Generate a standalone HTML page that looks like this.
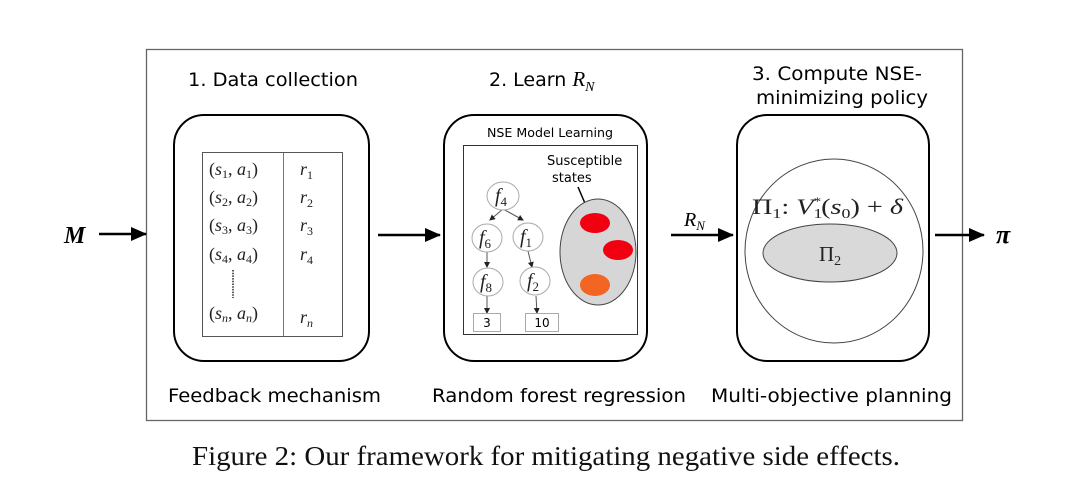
<!DOCTYPE html>
<html><head><meta charset="utf-8"><style>
html,body{margin:0;padding:0;background:#fff;}
svg{display:block;}
.s{font-family:"DejaVu Sans","Liberation Sans",sans-serif;}
.m{font-family:"Liberation Serif",serif;font-style:italic;}
.r{font-family:"Liberation Serif",serif;}
</style></head><body>
<svg width="1080" height="495" viewBox="0 0 1080 495" xmlns="http://www.w3.org/2000/svg">
<defs>
<marker id="as" markerWidth="6" markerHeight="6" refX="5" refY="3" orient="auto" markerUnits="userSpaceOnUse" viewBox="0 0 6 6"><path d="M0,0 L6,3 L0,6 z" fill="#222"/></marker>
<marker id="ab" markerWidth="16" markerHeight="14" refX="15" refY="7" orient="auto" markerUnits="userSpaceOnUse" viewBox="0 0 16 14"><path d="M0,0 L16,7 L0,14 z" fill="#000"/></marker>
</defs>
<rect x="146.5" y="49.5" width="816" height="371" fill="none" stroke="#666" stroke-width="1.3"/>
<text x="188" y="86" class="s" font-size="19" textLength="170" lengthAdjust="spacingAndGlyphs">1. Data collection</text>
<text x="489" y="86" class="s" font-size="19">2. Learn <tspan class="m" font-size="21">R</tspan><tspan class="m" font-size="14" dy="5">N</tspan></text>
<text x="752" y="80" class="s" font-size="19" textLength="170" lengthAdjust="spacingAndGlyphs">3. Compute NSE-</text>
<text x="756" y="104" class="s" font-size="19" textLength="172" lengthAdjust="spacingAndGlyphs">minimizing policy</text>
<!-- box1 -->
<rect x="174" y="115" width="195" height="246" rx="30" fill="none" stroke="#000" stroke-width="2"/>
<rect x="202.5" y="152.5" width="140" height="184" fill="none" stroke="#555" stroke-width="1"/>
<line x1="283.5" y1="153" x2="283.5" y2="336" stroke="#777" stroke-width="1"/>
<g class="r" font-size="18" fill="#222">
<text x="209" y="175">(<tspan class="m">s</tspan><tspan font-size="12" dy="3">1</tspan><tspan dy="-3">, </tspan><tspan class="m">a</tspan><tspan font-size="12" dy="3">1</tspan><tspan dy="-3">)</tspan></text>
<text x="209" y="203">(<tspan class="m">s</tspan><tspan font-size="12" dy="3">2</tspan><tspan dy="-3">, </tspan><tspan class="m">a</tspan><tspan font-size="12" dy="3">2</tspan><tspan dy="-3">)</tspan></text>
<text x="209" y="231">(<tspan class="m">s</tspan><tspan font-size="12" dy="3">3</tspan><tspan dy="-3">, </tspan><tspan class="m">a</tspan><tspan font-size="12" dy="3">3</tspan><tspan dy="-3">)</tspan></text>
<text x="209" y="260">(<tspan class="m">s</tspan><tspan font-size="12" dy="3">4</tspan><tspan dy="-3">, </tspan><tspan class="m">a</tspan><tspan font-size="12" dy="3">4</tspan><tspan dy="-3">)</tspan></text>
<text x="209" y="319">(<tspan class="m">s</tspan><tspan font-size="12" dy="3" class="m">n</tspan><tspan dy="-3">, </tspan><tspan class="m">a</tspan><tspan font-size="12" dy="3" class="m">n</tspan><tspan dy="-3">)</tspan></text>
<text x="300" y="175" class="m">r<tspan font-size="12" dy="4" font-style="normal">1</tspan></text>
<text x="300" y="203" class="m">r<tspan font-size="12" dy="4" font-style="normal">2</tspan></text>
<text x="300" y="231" class="m">r<tspan font-size="12" dy="4" font-style="normal">3</tspan></text>
<text x="300" y="260" class="m">r<tspan font-size="12" dy="4" font-style="normal">4</tspan></text>
<text x="300" y="323" class="m">r<tspan font-size="12" dy="4">n</tspan></text>
</g>
<line x1="233" y1="270" x2="233" y2="298" stroke="#222" stroke-width="1.5" stroke-dasharray="1.5,1.2"/>
<!-- box2 -->
<rect x="444" y="115" width="203" height="246" rx="30" fill="none" stroke="#000" stroke-width="2"/>
<text x="487" y="137" class="s" font-size="12.5" textLength="126" lengthAdjust="spacingAndGlyphs">NSE Model Learning</text>
<rect x="463.5" y="145.5" width="174" height="189" fill="none" stroke="#333" stroke-width="1"/>
<text x="547" y="165" class="s" font-size="13">Susceptible</text>
<text x="552" y="182" class="s" font-size="13">states</text>
<line x1="578" y1="187" x2="587" y2="208" stroke="#000" stroke-width="1.5" marker-end="url(#as)"/>
<ellipse cx="598" cy="252" rx="38" ry="53" fill="#d6d6d6" stroke="#444" stroke-width="1"/>
<ellipse cx="595" cy="223" rx="15" ry="10" fill="#f00010"/>
<ellipse cx="618" cy="250" rx="15" ry="10" fill="#f00010"/>
<ellipse cx="595" cy="285" rx="15" ry="11" fill="#f26522"/>
<g stroke="#555" stroke-width="1" fill="none">
<line x1="503" y1="209" x2="490" y2="220" marker-end="url(#as)"/>
<line x1="503" y1="209" x2="523" y2="220" marker-end="url(#as)"/>
<line x1="487" y1="251" x2="487" y2="267" marker-end="url(#as)"/>
<line x1="528" y1="251" x2="532" y2="267" marker-end="url(#as)"/>
<line x1="487" y1="296" x2="487" y2="313" marker-end="url(#as)"/>
<line x1="536" y1="296" x2="537" y2="313" marker-end="url(#as)"/>
</g>
<g fill="#fff" stroke="#aaa" stroke-width="1">
<ellipse cx="503" cy="196" rx="16" ry="14"/>
<ellipse cx="487" cy="238" rx="15" ry="14"/>
<ellipse cx="528" cy="237" rx="15" ry="14"/>
<ellipse cx="488" cy="282" rx="15" ry="14"/>
<ellipse cx="535" cy="281" rx="15" ry="14"/>
<rect x="473.5" y="313.5" width="27" height="18"/>
<rect x="525.5" y="313.5" width="33" height="18"/>
</g>
<g class="m" font-size="20" fill="#222" text-anchor="middle">
<text x="501" y="202">f<tspan font-size="13" dy="4" font-style="normal">4</tspan></text>
<text x="485" y="244">f<tspan font-size="13" dy="4" font-style="normal">6</tspan></text>
<text x="526" y="243">f<tspan font-size="13" dy="4" font-style="normal">1</tspan></text>
<text x="486" y="288">f<tspan font-size="13" dy="4" font-style="normal">8</tspan></text>
<text x="533" y="287">f<tspan font-size="13" dy="4" font-style="normal">2</tspan></text>
</g>
<text x="487" y="327" class="s" font-size="12" text-anchor="middle">3</text>
<text x="542" y="327" class="s" font-size="12" text-anchor="middle">10</text>
<!-- box3 -->
<rect x="737" y="115" width="192" height="246" rx="30" fill="none" stroke="#000" stroke-width="2"/>
<ellipse cx="834" cy="251" rx="89" ry="92" fill="none" stroke="#444" stroke-width="1"/>
<ellipse cx="830" cy="253" rx="67" ry="29" fill="#d9d9d9" stroke="#444" stroke-width="1"/>
<text x="752" y="214" class="r" font-size="22" fill="#222" textLength="151" lengthAdjust="spacingAndGlyphs">Π<tspan font-size="14" dy="4">1</tspan><tspan dy="-4">: </tspan><tspan class="m">V</tspan><tspan font-size="14" dy="4">1</tspan><tspan font-size="12" dx="-7" dy="-13">*</tspan><tspan dy="9">(</tspan><tspan class="m">s</tspan><tspan font-size="14" dy="4">0</tspan><tspan dy="-4">) + </tspan><tspan class="m">δ</tspan></text>
<text x="819" y="261" class="r" font-size="21" fill="#222">Π<tspan font-size="14" dy="4">2</tspan></text>
<!-- arrows -->
<text x="64" y="243" class="m" font-size="24" font-weight="bold">M</text>
<line x1="99" y1="234" x2="146" y2="234" stroke="#000" stroke-width="2.5" marker-end="url(#ab)"/>
<line x1="378" y1="235" x2="440" y2="235" stroke="#000" stroke-width="2.5" marker-end="url(#ab)"/>
<text x="684" y="226" class="m" font-size="20">R<tspan font-size="13" dy="4">N</tspan></text>
<line x1="671" y1="235" x2="733" y2="235" stroke="#000" stroke-width="2.5" marker-end="url(#ab)"/>
<line x1="935" y1="235" x2="984" y2="235" stroke="#000" stroke-width="2.5" marker-end="url(#ab)"/>
<text x="996" y="243" class="m" font-size="26" font-weight="bold">π</text>
<!-- bottom labels -->
<text x="168" y="402" class="s" font-size="19" textLength="213" lengthAdjust="spacingAndGlyphs">Feedback mechanism</text>
<text x="432" y="402" class="s" font-size="19" textLength="254" lengthAdjust="spacingAndGlyphs">Random forest regression</text>
<text x="711" y="402" class="s" font-size="19" textLength="241" lengthAdjust="spacingAndGlyphs">Multi-objective planning</text>
<text x="192" y="465" class="r" font-size="27" fill="#111" textLength="708" lengthAdjust="spacingAndGlyphs">Figure 2: Our framework for mitigating negative side effects.</text>
</svg>
</body></html>
